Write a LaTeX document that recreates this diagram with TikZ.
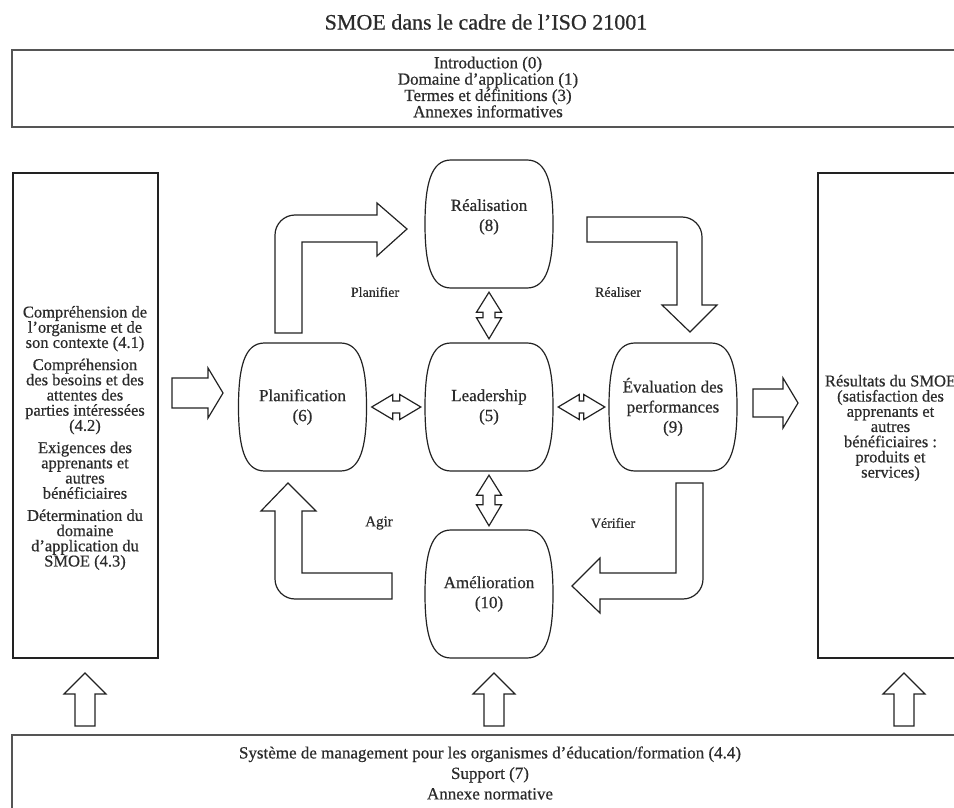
\documentclass[tikz,border=0pt]{standalone}
\usepackage{fontspec}
\setmainfont{Liberation Serif}[FakeBold=0.6]
\usetikzlibrary{positioning}
\usetikzlibrary{calc}

\setlength{\lineskiplimit}{-10pt}

\definecolor{inkline}{HTML}{222222}
\definecolor{inktext}{HTML}{2b2b2b}
\definecolor{frameline}{HTML}{555555}

\tikzset{
	stage/.style = {minimum width = 128pt, minimum height = 128pt, inner sep = 0pt, align = center, text = inktext, font = \fontsize{17}{20}\selectfont},
	barrel/.style = {inkline, line width = 1.2pt},
	block/.style = {inkline, line width = 1.2pt, line join = miter},
	sidebox/.style = {draw = inkline, line width = 1.4pt, minimum width = 145pt, minimum height = 485pt, inner sep = 0pt},
	widebox/.style = {frameline, line width = 2.2pt},
	boxtext/.style = {align = center, text = inktext, inner sep = 0pt, font = \fontsize{16.5}{15.2}\selectfont},
	bandtext/.style = {align = center, text = inktext, inner sep = 0pt},
	cyclelabel/.style = {text = inktext, inner sep = 0pt, font = \fontsize{14}{16}\selectfont}
}

% outline of a stage, drawn round the named node
\newcommand{\barrel}[1]{
	\draw [barrel] ($(#1) + (-38, -64)$) -- ($(#1) + (38, -64)$)
		.. controls ($(#1) + (58, -64)$) and ($(#1) + (64, -40)$) .. ($(#1) + (64, 0)$)
		.. controls ($(#1) + (64, 40)$) and ($(#1) + (58, 64)$) .. ($(#1) + (38, 64)$)
		-- ($(#1) + (-38, 64)$)
		.. controls ($(#1) + (-58, 64)$) and ($(#1) + (-64, 40)$) .. ($(#1) + (-64, 0)$)
		.. controls ($(#1) + (-64, -40)$) and ($(#1) + (-58, -64)$) .. cycle;
}

% small two-headed arrows between stages
\newcommand{\dblv}[2]{
	\draw [block] let \p1 = (#1), \p2 = (#2) in
		(\x1, \y1 - 4pt) -- (\x1 + 12.5pt, \y1 - 24pt) -- (\x1 + 6pt, \y1 - 24pt) -- (\x1 + 6pt, \y2 + 25pt)
		-- (\x1 + 12.5pt, \y2 + 25pt) -- (\x1, \y2 + 4pt) -- (\x1 - 12.5pt, \y2 + 25pt) -- (\x1 - 6pt, \y2 + 25pt)
		-- (\x1 - 6pt, \y1 - 24pt) -- (\x1 - 12.5pt, \y1 - 24pt) -- cycle;
}
\newcommand{\dblh}[2]{
	\draw [block] let \p1 = (#1), \p2 = (#2) in
		(\x1 + 5pt, \y1) -- (\x1 + 26pt, \y1 + 12.5pt) -- (\x1 + 26pt, \y1 + 6pt) -- (\x2 - 25pt, \y1 + 6pt)
		-- (\x2 - 25pt, \y1 + 12.5pt) -- (\x2 - 4pt, \y1) -- (\x2 - 25pt, \y1 - 12.5pt) -- (\x2 - 25pt, \y1 - 6pt)
		-- (\x1 + 26pt, \y1 - 6pt) -- (\x1 + 26pt, \y1 - 12.5pt) -- cycle;
}

\begin{document}
\begin{tikzpicture}[x = 1pt, y = -1pt]
	\useasboundingbox (0, 0) rectangle (954, 808);
	\clip (0, 0) rectangle (954, 808);

	\node [text = inktext, font = \fontsize{22}{24}\selectfont] (title) at (486, 22) {SMOE dans le cadre de l'ISO 21001};

	% top and bottom bands
	\draw [widebox] (12, 50) rectangle (964, 127);
	\node [bandtext, font = \fontsize{17}{16.3}\selectfont] (general) at (488, 87) {Introduction (0)\\Domaine d'application (1)\\Termes et définitions (3)\\Annexes informatives};
	\draw [widebox] (12, 735) rectangle (964, 830);
	\node [bandtext, font = \fontsize{17}{20.5}\selectfont] (support) at (490, 773) {Système de management pour les organismes d'éducation/formation (4.4)\\Support (7)\\Annexe normative};

	% side boxes
	\node [sidebox] (ctxbox) at (85.5, 415.5) {};
	\node [boxtext] (ctx) at (85, 438) {Compréhension de\\l'organisme et de\\son contexte (4.1)\\[7pt]Compréhension\\des besoins et des\\attentes des\\parties intéressées\\(4.2)\\[7pt]Exigences des\\apprenants et\\autres\\bénéficiaires\\[7pt]Détermination du\\domaine\\d'application du\\SMOE (4.3)};
	\node [sidebox] (resbox) at (890.5, 415.5) {};
	\node [boxtext] (res) at (890.5, 428) {Résultats du SMOE\\(satisfaction des\\apprenants et\\autres\\bénéficiaires :\\produits et\\services)};

	% stages
	\node [stage, text depth = 18pt] (real) at (489, 224) {Réalisation\\(8)};
	\node [stage] (plan) at (302.5, 407) {Planification\\(6)};
	\node [stage] (lead) at (489, 407) {Leadership\\(5)};
	\node [stage] (eval) at (673, 407) {Évaluation des\\performances\\(9)};
	\node [stage] (amel) at (489, 594) {Amélioration\\(10)};
	\foreach \n in {real, plan, lead, eval, amel}
		\barrel{\n};

	\dblv{real.south}{lead.north};
	\dblv{lead.south}{amel.north};
	\dblh{plan.east}{lead.west};
	\dblh{lead.east}{eval.west};

	% cycle arrows
	\draw [block] (275, 333) -- (275, 235) .. controls (275, 224) and (284, 215) .. (295, 215) -- (377, 215) -- (377, 203) -- (407, 229) -- (377, 256) -- (377, 242) -- (302, 242) -- (302, 333) -- cycle;
	\draw [block] (587, 217) -- (682, 217) .. controls (693, 217) and (702, 226) .. (702, 237) -- (702, 305) -- (717, 305) -- (690, 332) -- (662, 305) -- (677, 305) -- (677, 242) -- (587, 242) -- cycle;
	\draw [block] (676, 483) -- (703, 483) -- (703, 579) .. controls (703, 590) and (694, 599) .. (683, 599) -- (600, 599) -- (600, 613) -- (572, 586) -- (600, 558) -- (600, 573) -- (676, 573) -- cycle;
	\draw [block] (288, 483) -- (316, 511) -- (302, 511) -- (302, 573) -- (392, 573) -- (392, 599) -- (295, 599) .. controls (284, 599) and (275, 590) .. (275, 579) -- (275, 511) -- (261, 511) -- cycle;

	\node [cyclelabel] (planifier) at (375, 292) {Planifier};
	\node [cyclelabel] (realiser) at (618, 292) {Réaliser};
	\node [cyclelabel, font = \fontsize{15}{17}\selectfont] (agir) at (379, 523) {Agir};
	\node [cyclelabel] (verifier) at (613, 523) {Vérifier};

	% inputs and outputs
	\draw [block] (172, 378) -- (208, 378) -- (208, 368) -- (223, 393) -- (208, 418) -- (208, 408) -- (172, 408) -- cycle;
	\draw [block] (753, 389) -- (783, 389) -- (783, 378) -- (798, 403) -- (783, 428) -- (783, 417) -- (753, 417) -- cycle;
	\foreach \cx in {85, 494, 904}
		\draw [block] (\cx, 673) -- (\cx + 21, 694) -- (\cx + 10, 694) -- (\cx + 10, 726) -- (\cx - 10, 726) -- (\cx - 10, 694) -- (\cx - 21, 694) -- cycle;
\end{tikzpicture}
\end{document}
